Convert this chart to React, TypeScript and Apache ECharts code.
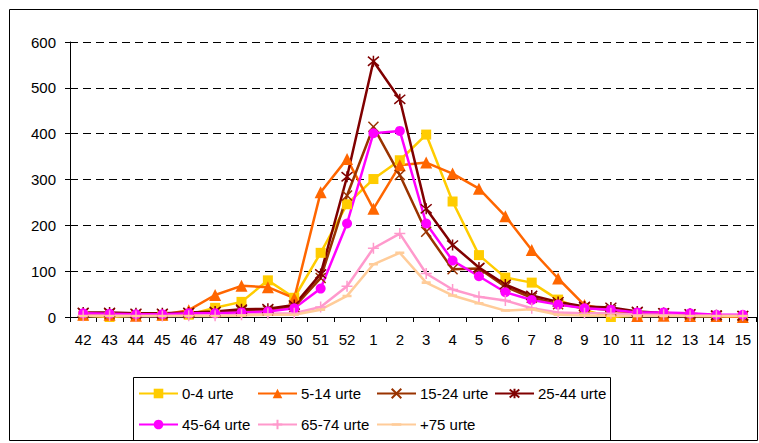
import React, { useEffect, useRef } from "react";
import * as echarts from "echarts";

// Week numbers, late autumn through spring
const weeks = ["42","43","44","45","46","47","48","49","50","51","52","1","2","3","4","5","6","7","8","9","10","11","12","13","14","15"];

// Weekly case counts per age group
const age0to4 = [3,0,3,3,5,20,33,80,42,140,246,301,342,398,252,135,86,75,38,15,0,3,3,2,2,0];
const age5to14 = [5,5,3,5,15,48,68,65,41,272,345,236,331,337,313,280,220,146,84,26,15,2,3,2,2,0];
const age15to24 = [8,7,6,6,8,10,13,14,22,85,265,415,310,186,104,106,66,42,28,20,15,10,8,5,3,2];
const age25to44 = [10,10,8,8,10,12,17,18,26,94,306,558,475,236,157,108,71,47,33,23,21,12,9,7,4,3];
const age45to64 = [8,7,6,6,8,8,10,12,19,62,204,401,406,204,123,89,54,37,27,19,16,10,10,8,5,5];
const age65to74 = [3,3,2,2,3,3,5,7,8,22,67,150,182,95,60,44,36,19,10,8,8,5,5,3,3,3];
const age75plus = [2,2,2,2,2,2,3,5,5,16,46,115,140,75,47,30,14,17,5,3,3,2,2,2,2,2];

const seriesNames = ["0-4 urte","5-14 urte","15-24 urte","25-44 urte","45-64 urte","65-74 urte","+75 urte"];
const seriesColors = ["#FFCC00","#FF6600","#993300","#800000","#FF00FF","#FF99CC","#FFCC99"];

const FONT = "'Liberation Sans', Arial, sans-serif";

const X_PATH = "path://M0,0L10,10M10,0L0,10";
const STAR_PATH = "path://M0,0L10,10M10,0L0,10M5,-1L5,11";
const PLUS_PATH = "path://M5,0L5,10M0,5L10,5";
// Short flat dash centred in a square box (corner points only set the box)
const DASH_PATH = "path://M0,0L0.01,0ZM0,3.6L10,3.6L10,6.4L0,6.4ZM10,10L9.99,10Z";

function makeSeries(i: number, data: number[], symbol: string, size: number | number[], stroked: boolean) {
  const color = seriesColors[i];
  return {
    name: seriesNames[i],
    type: "line",
    data,
    symbol,
    symbolSize: size,
    showAllSymbol: true,
    lineStyle: { color, width: 2.5 },
    itemStyle: stroked
      ? { color: "rgba(0,0,0,0)", borderColor: color, borderWidth: 1.5 }
      : { color, borderWidth: 0 },
    emphasis: { disabled: true },
  };
}

export default function App() {
  const ref = useRef<HTMLDivElement>(null);

  useEffect(() => {
    if (!ref.current) return;
    const chart = echarts.init(ref.current, null, { renderer: "svg" });

    // Legend box: two rows, four fixed-width columns
    const legendLeft = [138, 257, 376, 494, 138, 257, 376];
    const legendTop = [386, 386, 386, 386, 417, 417, 417];

    const legends = seriesNames.map((name, i) => ({
      id: "legend" + i,
      show: true,
      data: [name],
      left: legendLeft[i],
      top: legendTop[i],
      orient: "horizontal",
      padding: 0,
      itemWidth: 39,
      itemHeight: 12,
      itemGap: 0,
      selectedMode: false,
      textStyle: { fontFamily: FONT, fontSize: 15, color: "#000", padding: [0, 0, 0, -1] },
    }));

    chart.setOption({
      animation: false,
      backgroundColor: "#fff",
      textStyle: { fontFamily: FONT },
      grid: { left: 70, right: 3, top: 42, bottom: 126, containLabel: false },
      legend: legends,
      graphic: [
        {
          type: "rect",
          shape: { x: 9.5, y: 9.5, width: 748, height: 431 },
          style: { fill: "none", stroke: "#000", lineWidth: 1 },
          silent: true,
        },
        {
          type: "rect",
          shape: { x: 133.5, y: 377.5, width: 477, height: 63 },
          style: { fill: "none", stroke: "#000", lineWidth: 1 },
          silent: true,
        },
      ],
      xAxis: {
        type: "category",
        data: weeks,
        boundaryGap: true,
        axisLine: { lineStyle: { color: "#000", width: 1 } },
        axisTick: { show: true, length: 5, inside: false, lineStyle: { color: "#000" } },
        axisLabel: { interval: 0, color: "#000", fontSize: 15, fontFamily: FONT, margin: 15 },
      },
      yAxis: {
        type: "value",
        min: 0,
        max: 600,
        interval: 100,
        axisLine: { show: true, lineStyle: { color: "#000", width: 1 } },
        axisTick: { show: true, length: 5, lineStyle: { color: "#000" } },
        axisLabel: { color: "#000", fontSize: 15, fontFamily: FONT, margin: 14 },
        splitLine: { show: true, lineStyle: { color: "#000", width: 1, type: [8, 5] } },
      },
      series: [
        makeSeries(0, age0to4, "rect", 10, false),
        makeSeries(1, age5to14, "triangle", 12, false),
        makeSeries(2, age15to24, X_PATH, 10, true),
        makeSeries(3, age25to44, STAR_PATH, 11, true),
        makeSeries(4, age45to64, "circle", 10, false),
        makeSeries(5, age65to74, PLUS_PATH, 11, true),
        makeSeries(6, age75plus, DASH_PATH, 9, false),
      ],
    });

    return () => chart.dispose();
  }, []);

  return (
    <div
      ref={ref}
      style={{ position: "fixed", left: 0, top: 0, width: 759, height: 443, background: "#fff" }}
    />
  );
}
